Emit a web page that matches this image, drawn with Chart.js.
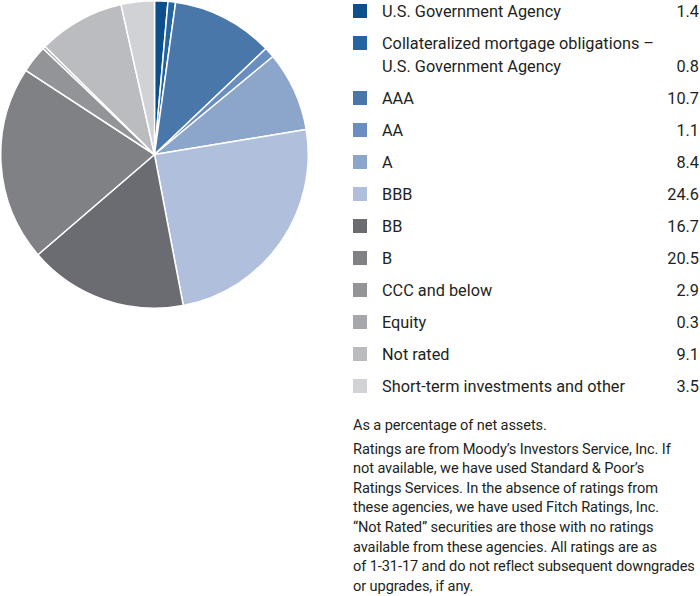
<!DOCTYPE html>
<html>
<head>
<meta charset="utf-8">
<script src="https://cdn.jsdelivr.net/npm/chart.js@4"></script>
<style>
  body { margin: 0; background: #fff; width: 700px; height: 596px; overflow: hidden;
         font-family: "Liberation Sans Narrow", Roboto, sans-serif; color: #231f20; }
  #pieBox { position: absolute; left: 0; top: 0; width: 309px; height: 309px; }
  #legend { position: absolute; left: 353px; top: 0; width: 346px; }
  .row { position: relative; display: flex; align-items: flex-end; font-size: 16.3px; line-height: 23px; margin-bottom: 9px; }
  .sw { position: absolute; left: 0; top: 4px; width: 14px; height: 14px; }
  .lbl { margin-left: 29px; flex: 1; }
  .val { text-align: right; }
  #notes { position: absolute; left: 353px; top: 416px; width: 347px; font-size: 14.6px; line-height: 19.6px; white-space: nowrap; letter-spacing: -0.1px; }
  #notes p { margin: 0 0 4px 0; }
</style>
</head>
<body>
<div id="pieBox"><canvas id="pie"></canvas></div>
<div id="legend"></div>
<div id="notes">
  <p>As a percentage of net assets.</p>
  <p>Ratings are from Moody’s Investors Service, Inc. If<br>not available, we have used Standard &amp; Poor’s<br>Ratings Services. In the absence of ratings from<br>these agencies, we have used Fitch Ratings, Inc.<br>“Not Rated” securities are those with no ratings<br>available from these agencies. All ratings are as<br>of 1-31-17 and do not reflect subsequent downgrades<br>or upgrades, if any.</p>
</div>
<script>
const labels = [
  'U.S. Government Agency',
  'Collateralized mortgage obligations –\nU.S. Government Agency',
  'AAA', 'AA', 'A', 'BBB', 'BB', 'B',
  'CCC and below', 'Equity', 'Not rated',
  'Short-term investments and other'
];
const values = [1.4, 0.8, 10.7, 1.1, 8.4, 24.6, 16.7, 20.5, 2.9, 0.3, 9.1, 3.5];
const colors = [
  '#0d4f8b', '#2365a0', '#4a77a9', '#6a8ebf', '#8ba5cb', '#b0c0dc',
  '#6b6c71', '#808185', '#939498', '#a6a7ab', '#bbbcc0', '#d1d2d5'
];

// legend rows on the right
const legend = document.getElementById('legend');
labels.forEach((l, i) => {
  const row = document.createElement('div');
  row.className = 'row';
  row.innerHTML = '<span class="sw" style="background:' + colors[i] + '"></span>' +
    '<span class="lbl">' + l.replace('\n', '<br>') + '</span>' +
    '<span class="val">' + values[i].toFixed(1) + '</span>';
  legend.appendChild(row);
});

new Chart(document.getElementById('pie'), {
  type: 'pie',
  data: {
    labels: labels,
    datasets: [{
      data: values,
      backgroundColor: colors,
      borderColor: '#ffffff',
      borderWidth: 1.5
    }]
  },
  options: {
    responsive: true,
    maintainAspectRatio: false,
    animation: false,
    layout: { padding: 0 },
    plugins: { legend: { display: false }, tooltip: { enabled: false } }
  }
});
</script>
</body>
</html>
